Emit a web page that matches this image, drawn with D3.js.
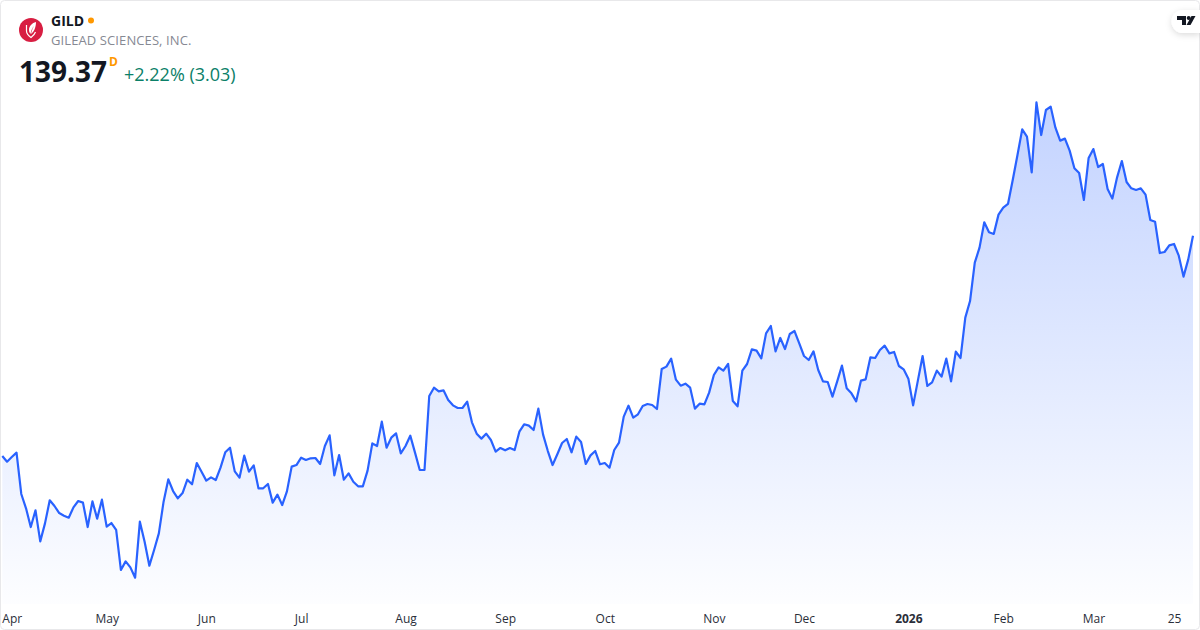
<!DOCTYPE html>
<html>
<head>
<meta charset="utf-8">
<script src="https://cdn.jsdelivr.net/npm/d3@7"></script>
<style>
  html, body { margin: 0; padding: 0; background: #fff; }
  svg { display: block; font-family: "Open Sans", "Noto Sans", sans-serif; }
  .tick text { font-size: 12px; fill: #2a2e39; }
</style>
</head>
<body>
<svg id="chart" width="1200" height="630"></svg>
<script>
const ticker = "GILD";
const company = "GILEAD SCIENCES, INC.";
const lastPrice = "139.37";
const change = "+2.22% (3.03)";

// cours de cloture, un par seance
const closes = [
  111.83, 111.12, 111.70, 112.25, 107.08, 105.29, 102.95, 105.04, 101.16, 103.41,
  106.29, 105.58, 104.70, 104.37, 104.12, 105.41, 106.20, 106.00, 102.95, 106.16,
  104.00, 106.37, 103.00, 103.45, 102.58, 97.58, 98.66, 97.91, 96.62, 103.62,
  101.12, 98.12, 100.08, 102.16, 106.12, 108.91, 107.45, 106.54, 107.20, 108.87,
  108.29, 110.95, 109.87, 108.75, 109.16, 108.83, 110.37, 112.29, 112.87, 109.91,
  109.12, 111.87, 109.87, 110.66, 107.79, 107.79, 108.33, 106.00, 107.00, 105.70,
  107.41, 110.50, 110.70, 111.62, 111.33, 111.54, 111.58, 110.83, 113.08, 114.41,
  109.41, 111.95, 108.87, 109.66, 108.62, 108.04, 108.04, 110.00, 113.41, 113.08,
  116.12, 112.87, 114.12, 114.66, 112.16, 113.08, 114.37, 112.25, 110.08, 110.08,
  119.33, 120.37, 119.91, 120.04, 118.83, 118.16, 117.83, 117.83, 118.62, 116.04,
  114.62, 114.00, 114.62, 113.83, 112.37, 112.83, 112.54, 112.83, 112.58, 114.87,
  115.79, 115.62, 115.08, 117.75, 114.50, 112.45, 110.70, 112.04, 113.45, 113.95,
  112.29, 114.25, 113.58, 110.83, 111.91, 112.45, 110.79, 110.95, 110.37, 112.58,
  113.50, 116.75, 118.12, 116.62, 117.04, 118.08, 118.33, 118.20, 117.70, 122.70,
  123.00, 124.00, 121.37, 120.62, 120.87, 120.37, 117.75, 118.37, 118.29, 119.75,
  121.95, 122.91, 122.50, 123.33, 118.70, 118.04, 122.50, 123.33, 125.16, 125.00,
  124.04, 127.16, 128.08, 124.91, 126.58, 125.20, 127.08, 127.45, 125.91, 124.33,
  123.83, 124.91, 122.58, 121.16, 121.08, 119.25, 121.16, 123.12, 120.29, 119.66,
  118.66, 121.25, 121.41, 124.16, 124.08, 125.08, 125.62, 124.66, 124.83, 123.08,
  122.66, 121.50, 118.16, 121.25, 124.33, 120.58, 121.04, 122.50, 121.75, 124.00,
  121.16, 124.87, 124.08, 129.12, 131.20, 136.00, 137.87, 141.04, 139.79, 139.58,
  142.00, 142.87, 143.33, 146.33, 149.45, 152.66, 151.75, 147.29, 156.04, 151.95,
  155.08, 155.50, 152.87, 151.25, 151.50, 150.00, 147.79, 147.20, 143.83, 149.08,
  150.20, 147.95, 148.33, 145.20, 144.00, 146.66, 148.70, 146.08, 145.29, 145.08,
  145.29, 144.50, 141.33, 141.12, 137.20, 137.33, 138.16, 138.33, 136.87, 134.25,
  136.41, 139.37
];

const tickIndex = [2, 22, 43, 63, 85, 106, 127, 150, 169, 191, 211, 230, 247];
const tickLabels = ["Apr", "May", "Jun", "Jul", "Aug", "Sep", "Oct", "Nov", "Dec", "2026", "Feb", "Mar", "25"];

const svg = d3.select("#chart");
const width = 1200;
const height = 630;
const axisY = 604;

const x = d3.scaleLinear().domain([0, closes.length - 1]).range([2.3, 1193]);
const y = d3.scaleLinear().domain([90, 160]).range([630.63, 70.63]);

// fond du widget
svg.append("rect")
  .attr("x", 0.5).attr("y", 0.5)
  .attr("width", width - 1).attr("height", height - 1)
  .attr("rx", 4)
  .attr("fill", "#fff")
  .attr("stroke", "#e8e8ea");

const defs = svg.append("defs");
const grad = defs.append("linearGradient")
  .attr("id", "areaFill")
  .attr("gradientUnits", "userSpaceOnUse")
  .attr("x1", 0).attr("x2", 0)
  .attr("y1", y(d3.max(closes))).attr("y2", axisY);
grad.append("stop").attr("offset", 0).attr("stop-color", "#2962ff").attr("stop-opacity", 0.28);
grad.append("stop").attr("offset", 1).attr("stop-color", "#2962ff").attr("stop-opacity", 0.01);

const shadow = defs.append("filter").attr("id", "tabShadow")
  .attr("x", "-40%").attr("y", "-40%").attr("width", "180%").attr("height", "200%");
shadow.append("feDropShadow")
  .attr("dx", 0).attr("dy", 2).attr("stdDeviation", 3)
  .attr("flood-color", "#000").attr("flood-opacity", 0.14);

const area = d3.area()
  .x((d, i) => x(i))
  .y0(axisY)
  .y1(d => y(d));

const line = d3.line()
  .x((d, i) => x(i))
  .y(d => y(d));

svg.append("path")
  .datum(closes)
  .attr("d", area)
  .attr("fill", "url(#areaFill)");

svg.append("path")
  .datum(closes)
  .attr("d", line)
  .attr("fill", "none")
  .attr("stroke", "#2962ff")
  .attr("stroke-width", 2.2)
  .attr("stroke-linejoin", "round");

// axe des mois
const axis = d3.axisBottom(x)
  .tickValues(tickIndex)
  .tickFormat((d, i) => tickLabels[i])
  .tickSize(0)
  .tickPadding(10);

const axisG = svg.append("g")
  .attr("transform", `translate(0,${axisY})`)
  .call(axis);
axisG.select(".domain").remove();
axisG.selectAll(".tick text")
  .style("font-family", '"Open Sans", "Noto Sans", sans-serif')
  .style("font-weight", (d, i) => tickLabels[i] === "2026" ? 700 : 400);

// logo
const logo = svg.append("g").attr("transform", "translate(31,30)");
logo.append("circle").attr("r", 12).attr("fill", "#d81e42");
logo.append("path")
  .attr("d", "M-4.5,-5 V1 C-4.5,4 -2,6 0,7.5 C2,6 3.8,4 4.5,2")
  .attr("fill", "none")
  .attr("stroke", "#fff")
  .attr("stroke-width", 1.2);
logo.append("path")
  .attr("d", "M5,-8 C1,-7 -2,-4 -2,0 C-2,2 -1,3 -0.5,4 C0,1 1,-2 3,-4 C1,-1 0.5,2 0,4 C3,2 5,-3 5,-8 Z")
  .attr("fill", "#fff");

// en-tete
svg.append("text").attr("x", 51).attr("y", 26)
  .attr("font-size", 14).attr("font-weight", 700).attr("fill", "#131722")
  .text(ticker);
svg.append("circle").attr("cx", 91).attr("cy", 20.5).attr("r", 3).attr("fill", "#ff9800");
svg.append("text").attr("x", 51).attr("y", 45)
  .attr("font-size", 13).attr("letter-spacing", 0.1).attr("fill", "#868993")
  .text(company);
svg.append("text").attr("x", 19).attr("y", 82)
  .attr("font-size", 28).attr("font-weight", 700).attr("fill", "#131722")
  .text(lastPrice);
svg.append("text").attr("x", 109).attr("y", 66)
  .attr("font-size", 12).attr("font-weight", 700).attr("fill", "#ff9800")
  .text("D");
svg.append("text").attr("x", 124).attr("y", 81)
  .attr("font-size", 18).attr("fill", "#0b8068")
  .text(change);

// onglet TradingView
svg.append("path")
  .attr("d", "M1200,10 H1183 A11.5,11.5 0 0 0 1183,33 H1200 Z")
  .attr("fill", "#fff")
  .attr("filter", "url(#tabShadow)");
const tvLogo = svg.append("g").attr("fill", "#131722");
tvLogo.append("path").attr("d", "M1177,16 H1186 V25 H1182 V20 H1177 Z");
tvLogo.append("circle").attr("cx", 1188.7).attr("cy", 18).attr("r", 2);
tvLogo.append("path").attr("d", "M1191.5,16 H1195.5 L1190.5,25 H1186.5 Z");
</script>
</body>
</html>
